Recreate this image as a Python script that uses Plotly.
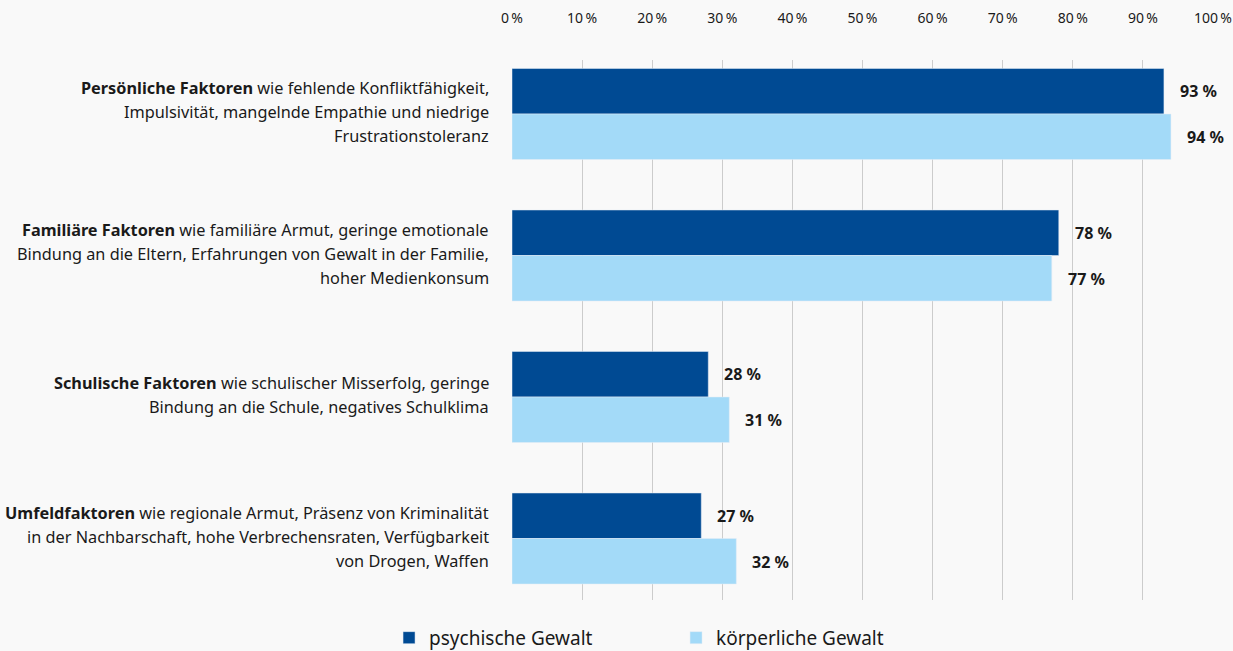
import plotly.graph_objects as go

categories = ["Persönliche Faktoren", "Familiäre Faktoren", "Schulische Faktoren", "Umfeldfaktoren"]
label_lines = [
    ["<b>Persönliche Faktoren</b> wie fehlende Konfliktfähigkeit,",
     "Impulsivität, mangelnde Empathie und niedrige",
     "Frustrationstoleranz"],
    ["<b>Familiäre Faktoren</b> wie familiäre Armut, geringe emotionale",
     "Bindung an die Eltern, Erfahrungen von Gewalt in der Familie,",
     "hoher Medienkonsum"],
    ["<b>Schulische Faktoren</b> wie schulischer Misserfolg, geringe",
     "Bindung an die Schule, negatives Schulklima"],
    ["<b>Umfeldfaktoren</b> wie regionale Armut, Präsenz von Kriminalität",
     "in der Nachbarschaft, hohe Verbrechensraten, Verfügbarkeit",
     "von Drogen, Waffen"],
]
psychische = [93, 78, 28, 27]
koerperliche = [94, 77, 31, 32]
series_names = ["psychische Gewalt", "körperliche Gewalt"]
tick_vals = [0, 10, 20, 30, 40, 50, 60, 70, 80, 90, 100]
tick_text = [f"{v}\u2009%" for v in tick_vals]

DARK = "#004a93"
LIGHT = "#a3daf8"
FONT = "Noto Sans"
TXT = "#1a1a1a"

fig = go.Figure()
fig.add_trace(go.Bar(y=categories, x=psychische, orientation="h", marker_color=DARK,
                     name=series_names[0]))
fig.add_trace(go.Bar(y=categories, x=koerperliche, orientation="h", marker_color=LIGHT,
                     name=series_names[1]))

annotations = []
for i, lines in enumerate(label_lines):
    n = len(lines)
    for j, line in enumerate(lines):
        annotations.append(dict(
            x=0, xref="paper", xanchor="right", xshift=-21,
            y=i, yref="y", yanchor="middle",
            yshift=((n - 1) / 2 - j) * 24 + 2,
            text=line, showarrow=False, align="right",
            font=dict(family=FONT, size=16.3, color=TXT)))
for i, (a, b) in enumerate(zip(psychische, koerperliche)):
    for val, shift in ((a, 23), (b, -23)):
        annotations.append(dict(
            x=val, xref="x", xanchor="left", xshift=14,
            y=i, yref="y", yanchor="middle", yshift=shift,
            text=f"<b>{val} %</b>", showarrow=False,
            font=dict(family=FONT, size=16, color=TXT)))

fig.update_layout(
    width=1233, height=651,
    margin=dict(l=512, r=20, t=60, b=51, autoexpand=False),
    paper_bgcolor="#f9f9f9", plot_bgcolor="#f9f9f9",
    barmode="group", bargap=0.357, bargroupgap=0,
    font=dict(family=FONT, color=TXT),
    annotations=annotations,
    legend=dict(orientation="h", x=-0.1754, xanchor="left",
                y=-0.07, yanchor="middle", entrywidth=242, traceorder="normal",
                font=dict(family=FONT, size=19, color=TXT),
                bgcolor="rgba(0,0,0,0)"),
    xaxis=dict(side="top", range=[0, 100], tickvals=tick_vals, ticktext=tick_text,
               showgrid=True, gridcolor="#cccccc", gridwidth=1,
               zeroline=False, showline=False,
               ticks="outside", ticklen=30, tickcolor="rgba(0,0,0,0)",
               tickfont=dict(family=FONT, size=14, color=TXT)),
    yaxis=dict(type="category", range=[3.4346, -0.3816], showticklabels=False,
               showgrid=False, zeroline=False, showline=False, ticks=""),
)

fig.write_html("out.html", config={"displayModeBar": False},
               post_script="document.body.style.margin='0';")
